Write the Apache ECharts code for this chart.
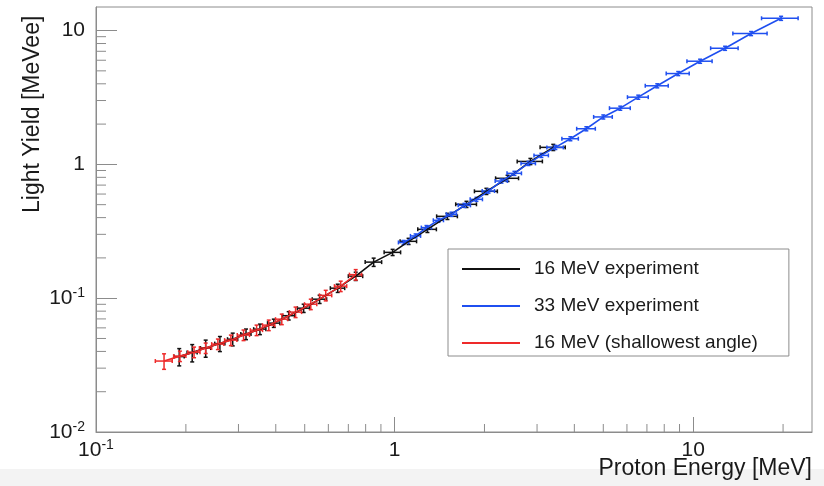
<!DOCTYPE html>
<html>
<head>
<meta charset="utf-8">
<script src="https://cdn.jsdelivr.net/npm/echarts@6/dist/echarts.min.js"></script>
<style>
  html, body { margin: 0; padding: 0; background: #fff; }
  #chart { width: 824px; height: 486px; }
</style>
</head>
<body>
<div id="chart"></div>
<script>
// --- data ---
const seriesNames = ["16 MeV experiment", "33 MeV experiment", "16 MeV (shallowest angle)"];

const blackX = [0.19, 0.21, 0.233, 0.26, 0.287, 0.318, 0.354, 0.394, 0.442, 0.496, 0.561, 0.645, 0.741, 0.851, 0.985, 1.114, 1.288, 1.503, 1.741, 2.03, 2.39, 2.85, 3.40];
const blackY = [0.0366, 0.0392, 0.0424, 0.0458, 0.0494, 0.0539, 0.0587, 0.0651, 0.074, 0.0842, 0.0983, 0.1188, 0.146, 0.186, 0.22, 0.266, 0.327, 0.409, 0.503, 0.629, 0.787, 1.052, 1.34];
const blackXErr = [0.0074, 0.0082, 0.0092, 0.0102, 0.0113, 0.0125, 0.0167, 0.0186, 0.0209, 0.0235, 0.0311, 0.0357, 0.041, 0.054, 0.0625, 0.0707, 0.0923, 0.12, 0.139, 0.179, 0.211, 0.276, 0.329];
const blackYErr = [0.0054, 0.0058, 0.0062, 0.0059, 0.0054, 0.0049, 0.0053, 0.0046, 0.0053, 0.006, 0.007, 0.0084, 0.0104, 0.0132, 0.0117, 0.0141, 0.0173, 0.0217, 0.0267, 0.0333, 0.0417, 0.0558, 0.071];

const blueX = [1.072, 1.176, 1.279, 1.403, 1.551, 1.714, 1.88, 2.063, 2.28, 2.52, 2.807, 3.102, 3.455, 3.879, 4.387, 5.0, 5.7, 6.548, 7.58, 8.91, 10.55, 12.79, 15.63, 19.7];
const blueY = [0.261, 0.292, 0.337, 0.382, 0.424, 0.494, 0.548, 0.632, 0.751, 0.857, 1.017, 1.167, 1.339, 1.555, 1.846, 2.262, 2.63, 3.179, 3.866, 4.773, 5.901, 7.375, 9.5, 12.35];
const blueXErr = [0.042, 0.046, 0.05, 0.055, 0.061, 0.081, 0.089, 0.098, 0.108, 0.14, 0.156, 0.172, 0.219, 0.246, 0.315, 0.359, 0.456, 0.524, 0.67, 0.788, 1.02, 1.35, 2.05, 2.76];
const blueYErr = [0.009, 0.01, 0.012, 0.013, 0.015, 0.017, 0.019, 0.022, 0.026, 0.03, 0.036, 0.041, 0.047, 0.054, 0.065, 0.079, 0.092, 0.111, 0.135, 0.167, 0.207, 0.258, 0.333, 0.432];

const redX = [0.169, 0.191, 0.213, 0.233, 0.256, 0.283, 0.312, 0.345, 0.379, 0.419, 0.466, 0.524, 0.588, 0.66, 0.741];
const redY = [0.0339, 0.0369, 0.0395, 0.0424, 0.0454, 0.0486, 0.053, 0.0577, 0.0629, 0.0697, 0.0787, 0.0902, 0.105, 0.123, 0.15];
const redXErr = [0.011, 0.009, 0.01, 0.011, 0.012, 0.0134, 0.0148, 0.0163, 0.018, 0.0198, 0.022, 0.0248, 0.0278, 0.0312, 0.035];
const redYErr = [0.0045, 0.0033, 0.0036, 0.0038, 0.0041, 0.0044, 0.0048, 0.0052, 0.0057, 0.0063, 0.0071, 0.0081, 0.0095, 0.011, 0.0135];

// tick labels
const xTicks = [0.1, 1, 10];
const xTickText = ["10^-1", "1", "10"];
const yTicks = [0.01, 0.1, 1, 10];
const yTickText = ["10^-2", "10^-1", "1", "10"];

const xMin = 0.1, xMax = 25, yMin = 0.01, yMax = 15;
const FONT = "Liberation Sans, Arial, Helvetica, sans-serif";
const colors = ["#111111", "#1f4ff0", "#ee2a2a"];
const frameColor = "#8c8c8c";

// minor ticks at 2..9 x 10^k inside the range
function minorTicks(lo, hi) {
  const out = [];
  for (let e = Math.floor(Math.log10(lo)); e <= Math.ceil(Math.log10(hi)); e++) {
    for (let m = 2; m <= 9; m++) {
      const v = m * Math.pow(10, e);
      if (v > lo && v < hi) out.push(v);
    }
  }
  return out;
}

function tickFormatter(ticks, texts) {
  return function (value) {
    for (let i = 0; i < ticks.length; i++) {
      if (Math.abs(Math.log10(value) - Math.log10(ticks[i])) < 1e-6) {
        const parts = texts[i].split("^");
        if (parts.length === 2) return "{base|" + parts[0] + "}{sup|" + parts[1] + "}";
        return "{base|" + parts[0] + "}";
      }
    }
    return "";
  };
}

const labelRich = {
  base: { fontSize: 21, lineHeight: 24, fontFamily: FONT, color: "#1a1a1a" },
  sup: { fontSize: 14, lineHeight: 10, verticalAlign: "top", fontFamily: FONT, color: "#1a1a1a" },
};

function errorBars(xs, ys, exs, eys, color) {
  return {
    type: "custom",
    silent: true,
    z: 3,
    data: xs.map((x, i) => [x, ys[i], exs[i], eys[i]]),
    renderItem(params, api) {
      const x = api.value(0), y = api.value(1), ex = api.value(2), ey = api.value(3);
      const l = api.coord([x - ex, y]);
      const r = api.coord([x + ex, y]);
      const t = api.coord([x, y + ey]);
      const b = api.coord([x, y - ey]);
      const cap = 2;
      const style = { stroke: color, lineWidth: 1.5 };
      return {
        type: "group",
        children: [
          { type: "line", shape: { x1: l[0], y1: l[1], x2: r[0], y2: r[1] }, style },
          { type: "line", shape: { x1: t[0], y1: t[1], x2: b[0], y2: b[1] }, style },
          { type: "line", shape: { x1: l[0], y1: l[1] - cap, x2: l[0], y2: l[1] + cap }, style },
          { type: "line", shape: { x1: r[0], y1: r[1] - cap, x2: r[0], y2: r[1] + cap }, style },
          { type: "line", shape: { x1: t[0] - cap, y1: t[1], x2: t[0] + cap, y2: t[1] }, style },
          { type: "line", shape: { x1: b[0] - cap, y1: b[1], x2: b[0] + cap, y2: b[1] }, style },
        ],
      };
    },
  };
}

function curve(name, xs, ys, color) {
  return {
    name,
    type: "line",
    symbol: "none",
    z: 4,
    data: xs.map((x, i) => [x, ys[i]]),
    lineStyle: { color, width: 1.6 },
    itemStyle: { color },
  };
}

const chart = echarts.init(document.getElementById("chart"), null, { renderer: "canvas" });

const option = {
  backgroundColor: "#ffffff",
  animation: false,
  grid: {
    left: 96,
    right: 12,
    top: 7,
    bottom: 54,
    show: true,
    borderColor: frameColor,
    borderWidth: 1,
    backgroundColor: "transparent",
  },
  legend: {
    data: seriesNames,
    orient: "vertical",
    left: 448,
    top: 249,
    padding: [10, 31, 3, 14],
    itemGap: 17,
    itemWidth: 58,
    itemHeight: 2,
    icon: "rect",
    borderColor: "#8c8c8c",
    borderWidth: 1,
    backgroundColor: "#fff",
    textStyle: { fontSize: 19, lineHeight: 20, fontFamily: FONT, color: "#1a1a1a", padding: [0, 0, 0, 9] },
  },
  xAxis: {
    type: "log",
    logBase: 10,
    min: xMin,
    max: xMax,
    splitLine: { show: false },
    axisLine: { lineStyle: { color: frameColor, width: 1 } },
    axisTick: { inside: true, length: 15, lineStyle: { color: frameColor, width: 1 } },
    axisLabel: { margin: 6, formatter: tickFormatter(xTicks, xTickText), rich: labelRich, showMaxLabel: false },
  },
  yAxis: {
    type: "log",
    logBase: 10,
    min: yMin,
    max: yMax,
    splitLine: { show: false },
    axisLine: { lineStyle: { color: frameColor, width: 1 } },
    axisTick: { inside: true, length: 21, lineStyle: { color: frameColor, width: 1 } },
    axisLabel: { margin: 11, formatter: tickFormatter(yTicks, yTickText), rich: labelRich, showMaxLabel: false },
  },
  graphic: [
    { type: "rect", left: 0, top: 469, shape: { width: 824, height: 17 }, style: { fill: "#f3f3f3" }, z: -10, silent: true },
    {
      type: "text",
      x: 33,
      y: 213,
      rotation: Math.PI / 2,
      style: { text: "Light Yield [MeVee]", font: "23px " + FONT, fill: "#1a1a1a", textAlign: "left", textVerticalAlign: "middle" },
      silent: true,
    },
    {
      type: "text",
      x: 812,
      y: 469,
      style: { text: "Proton Energy [MeV]", font: "23px " + FONT, fill: "#1a1a1a", textAlign: "right", textVerticalAlign: "middle" },
      silent: true,
    },
  ],
  series: [
    // minor ticks on the x axis
    {
      type: "custom",
      silent: true,
      data: minorTicks(xMin, xMax).map((v) => [v, yMin]),
      renderItem(params, api) {
        const p = api.coord([api.value(0), api.value(1)]);
        return { type: "line", shape: { x1: p[0], y1: p[1], x2: p[0], y2: p[1] - 8 }, style: { stroke: frameColor, lineWidth: 1 } };
      },
    },
    // minor ticks on the y axis
    {
      type: "custom",
      silent: true,
      data: minorTicks(yMin, yMax).map((v) => [xMin, v]),
      renderItem(params, api) {
        const p = api.coord([api.value(0), api.value(1)]);
        return { type: "line", shape: { x1: p[0], y1: p[1], x2: p[0] + 10, y2: p[1] }, style: { stroke: frameColor, lineWidth: 1 } };
      },
    },
    curve(seriesNames[0], blackX, blackY, colors[0]),
    errorBars(blackX, blackY, blackXErr, blackYErr, colors[0]),
    curve(seriesNames[1], blueX, blueY, colors[1]),
    errorBars(blueX, blueY, blueXErr, blueYErr, colors[1]),
    curve(seriesNames[2], redX, redY, colors[2]),
    errorBars(redX, redY, redXErr, redYErr, colors[2]),
  ],
};

chart.setOption(option);
</script>
</body>
</html>
